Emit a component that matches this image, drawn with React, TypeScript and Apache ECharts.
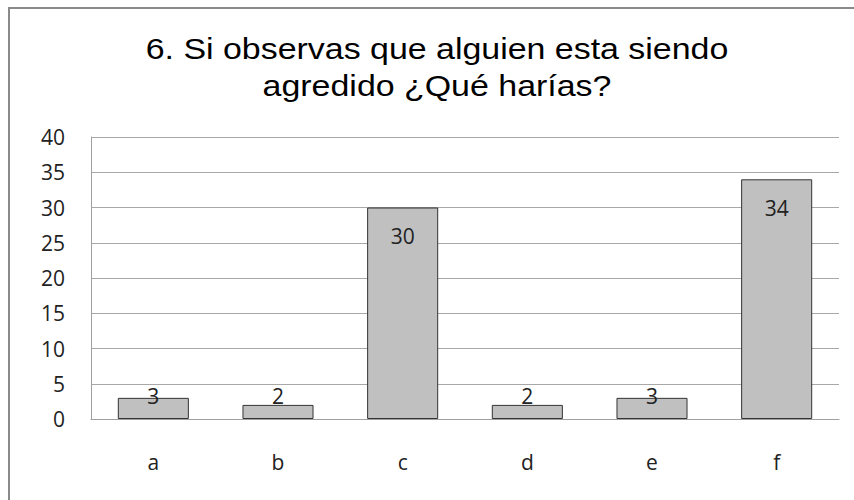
import React, { useEffect, useRef } from "react";
import * as echarts from "echarts";

const categories = ["a", "b", "c", "d", "e", "f"];
const values = [3, 2, 30, 2, 3, 34];
const titleLines = ["6. Si observas que alguien esta siendo", "agredido ¿Qué harías?"];
const yTicks = { min: 0, max: 40, interval: 5 };

export default function App() {
  const ref = useRef<HTMLDivElement>(null);
  useEffect(() => {
    document.body.style.margin = "0";
    const chart = echarts.init(ref.current!, null, { renderer: "svg" });
    const labelFont = "Open Sans";
    const titleY = [49, 85.5];
    chart.setOption({
      animation: false,
      backgroundColor: "#ffffff",
      graphic: [
        {
          type: "rect",
          shape: { x: 9, y: 8, width: 900, height: 600 },
          style: { fill: "none", stroke: "#8a8a8a", lineWidth: 2 },
          silent: true,
        },
        ...titleLines.map((t, i) => ({
          type: "text",
          x: 437,
          y: titleY[i],
          scaleX: 1.17,
          silent: true,
          style: {
            text: t,
            fill: "#000",
            font: "29px 'Liberation Sans', Arial, sans-serif",
            textAlign: "center",
            textVerticalAlign: "middle",
          },
        })),
      ],
      grid: { left: 91, right: 15, top: 137, bottom: 81 },
      xAxis: {
        type: "category",
        data: categories,
        axisLine: { show: true, lineStyle: { color: "#a0a0a0", width: 1 } },
        axisTick: { show: false },
        axisLabel: { color: "#222", fontFamily: labelFont, fontSize: 21, margin: 32 },
      },
      yAxis: {
        type: "value",
        min: yTicks.min,
        max: yTicks.max,
        interval: yTicks.interval,
        axisLine: { show: true, lineStyle: { color: "#a0a0a0", width: 1 } },
        axisTick: { show: false },
        splitLine: { show: true, lineStyle: { color: "#a8a8a8", width: 1 } },
        axisLabel: { color: "#222", fontFamily: labelFont, fontSize: 21, margin: 26 },
      },
      series: [
        {
          type: "bar",
          barWidth: "57%",
          data: values.map((v) => ({
            value: v,
            label:
              v >= 10
                ? { position: "insideTop", distance: 18 }
                : { position: "insideBottom", distance: 13 },
          })),
          itemStyle: { color: "#c0c0c0", borderColor: "#333", borderWidth: 1 },
          label: {
            show: true,
            color: "#222",
            fontFamily: labelFont,
            fontSize: 21,
          },
        },
      ],
    });
    return () => chart.dispose();
  }, []);
  return <div ref={ref} style={{ width: 854, height: 500 }} />;
}
